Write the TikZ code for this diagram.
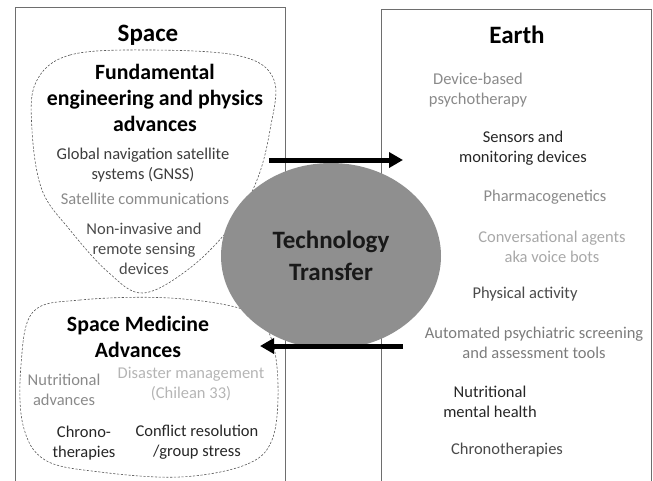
\documentclass[tikz,border=0pt]{standalone}
\usepackage{fontspec}
\setmainfont{Carlito}
\usetikzlibrary{arrows.meta}
\definecolor{tdark}{HTML}{262626}
\definecolor{tmid}{HTML}{4A4A4A}
\definecolor{tgray}{HTML}{8A8A8A}
\definecolor{tlight}{HTML}{A8A8A8}
\definecolor{blobfill}{HTML}{8F8F8F}
\definecolor{boxline}{HTML}{6E6E6E}
\tikzset{
  panel/.style={draw=boxline, line width=0.8pt},
  txt/.style={align=center, inner sep=0pt, font=\fontsize{16.5}{20}\selectfont},
  head/.style={align=center, inner sep=0pt, font=\fontsize{25}{30}\selectfont\bfseries},
  subhead/.style={align=center, inner sep=0pt, font=\fontsize{21.8}{26}\selectfont\bfseries},
  group/.style={draw=black!65, dashed, dash pattern=on 2.2pt off 1.6pt, line width=0.6pt},
  flow/.style={line width=5pt, -{Triangle[length=14pt,width=15pt]}},
}
\begin{document}
\begin{tikzpicture}[x=1pt,y=-1pt]
\useasboundingbox (0,0) rectangle (653,480);
% panels
\draw[panel] (15,482) -- (15,7) -- (285,7) -- (285,482);
\draw[panel] (381,482) -- (381,9) -- (651,9) -- (651,482);
% dashed groups
\draw[group] plot[smooth cycle, tension=0.6] coordinates {
  (36,82) (70,55) (150,50) (240,56) (274,80) (270,130) (257,180)
  (232,225) (190,268) (143,293) (108,272) (70,230) (42,190) (32,130)};
\draw[group] plot[smooth cycle, tension=0.6] coordinates {
  (33,312) (80,300) (170,298) (245,310) (270,335) (278,385) (272,440)
  (245,465) (180,477) (100,472) (45,460) (23,425) (21,365)};
% central ellipse
\fill[blobfill] (331,256) ellipse [x radius=110, y radius=93];
\node[head, font=\fontsize{25}{32}\selectfont\bfseries, text=black!90] (tt) at (331,256) {Technology\\Transfer};
% arrows
\coordinate (a1s) at (269,160);
\coordinate (a1e) at (403,160);
\coordinate (a2s) at (403,346);
\coordinate (a2e) at (260,346);
\draw[flow] (a1s) -- (a1e);
\draw[flow] (a2s) -- (a2e);
% left texts
\node[head, text=black] (space) at (148,35) {Space};
\node[subhead, text=black] (fund) at (155,98) {Fundamental\\engineering and physics\\advances};
\node[txt, text=tdark!90] (gnss) at (143,165) {Global navigation satellite\\systems (GNSS)};
\node[txt, text=tgray] (satc) at (145,199) {Satellite communications};
\node[txt, text=tmid] (nonin) at (144,249) {Non-invasive and\\remote sensing\\devices};
\node[subhead, text=black] (smed) at (138,337) {Space Medicine\\Advances};
\node[txt, text=tgray] (nutadv) at (64,390) {Nutritional\\advances};
\node[txt, text=tlight!85] (disas) at (191,384) {Disaster management\\(Chilean 33)};
\node[txt, text=tdark] (chrono) at (84,443) {Chrono-\\therapies};
\node[txt, text=tdark] (confl) at (197,442) {Conflict resolution\\/group stress};
% right texts
\node[head, text=black] (earth) at (517,35) {Earth};
\node[txt, text=tgray] (devb) at (478,90) {Device-based\\psychotherapy};
\node[txt, text=tdark] (sens) at (523,148) {Sensors and\\monitoring devices};
\node[txt, text=tgray] (pharm) at (545,197) {Pharmacogenetics};
\node[txt, text=tlight] (conv) at (552,247) {Conversational agents\\aka voice bots};
\node[txt, text=tmid] (phys) at (525,294) {Physical activity};
\node[txt, text=tgray!90!black] (auto) at (534,343) {Automated psychiatric screening\\and assessment tools};
\node[txt, text=tdark] (nutmh) at (490,402) {Nutritional\\mental health};
\node[txt, text=tmid] (chrth) at (507,450) {Chronotherapies};
\end{tikzpicture}
\end{document}
